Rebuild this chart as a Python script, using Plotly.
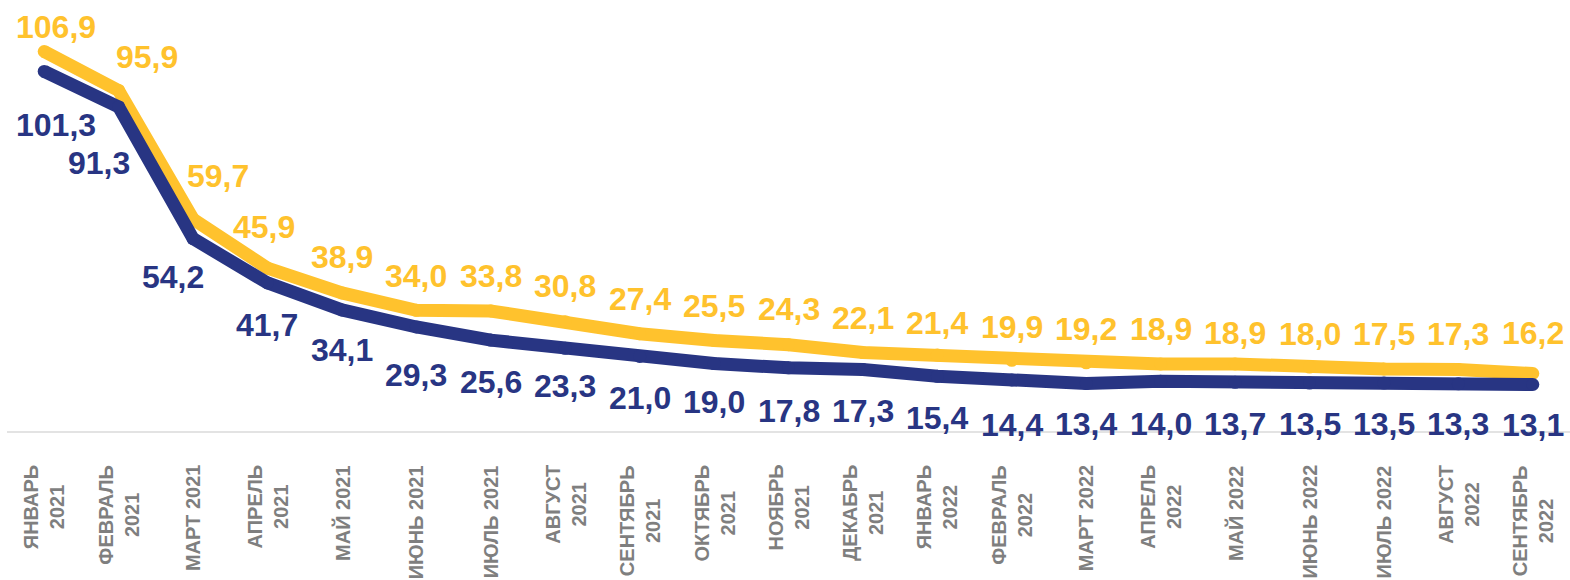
import plotly.graph_objects as go

# ---- data ----
months = ["ЯНВАРЬ<br>2021", "ФЕВРАЛЬ<br>2021", "МАРТ 2021", "АПРЕЛЬ<br>2021", "МАЙ 2021",
          "ИЮНЬ 2021", "ИЮЛЬ 2021", "АВГУСТ<br>2021", "СЕНТЯБРЬ<br>2021", "ОКТЯБРЬ<br>2021",
          "НОЯБРЬ<br>2021", "ДЕКАБРЬ<br>2021", "ЯНВАРЬ<br>2022", "ФЕВРАЛЬ<br>2022", "МАРТ 2022",
          "АПРЕЛЬ<br>2022", "МАЙ 2022", "ИЮНЬ 2022", "ИЮЛЬ 2022", "АВГУСТ<br>2022",
          "СЕНТЯБРЬ<br>2022"]
series_yellow = [106.9, 95.9, 59.7, 45.9, 38.9, 34.0, 33.8, 30.8, 27.4, 25.5, 24.3, 22.1,
                 21.4, 19.9, 19.2, 18.9, 18.9, 18.0, 17.5, 17.3, 16.2]
series_navy = [101.3, 91.3, 54.2, 41.7, 34.1, 29.3, 25.6, 23.3, 21.0, 19.0, 17.8, 17.3,
               15.4, 14.4, 13.4, 14.0, 13.7, 13.5, 13.5, 13.3, 13.1]

# ---- style ----
YELLOW = "#FFC22D"
NAVY = "#283583"
GRAY = "#7F7F7F"
FONT = "Liberation Sans, Arial, sans-serif"

# label offsets (pixels) relative to the data point
y_label_dx = [12, 28, 25, -4] + [0] * 17
y_label_dy = [25, 34, 43, 41, 36, 34, 35, 36, 35, 34, 36, 35, 32, 33, 34, 35, 31, 33, 35, 36, 40]
n_label_dx = [12, -20, -20, -1] + [0] * 17
n_label_dy = [-54, -56, -38, -42, -40, -48, -42, -38, -42, -38, -43, -41, -42, -45, -41, -43,
              -42, -41, -41, -40, -40]

xs = list(range(len(months)))

fig = go.Figure()
for vals, col in [(series_yellow, YELLOW), (series_navy, NAVY)]:
    fig.add_trace(go.Scatter(
        x=xs, y=vals, mode="lines+markers",
        line=dict(color=col, width=13),
        marker=dict(color=col, size=13, line=dict(width=0)),
        hoverinfo="skip", showlegend=False,
    ))

def fmt(v):
    return f"{v:.1f}".replace(".", ",")

annotations = []
for vals, col, dxs, dys in [(series_yellow, YELLOW, y_label_dx, y_label_dy),
                            (series_navy, NAVY, n_label_dx, n_label_dy)]:
    for i, v in enumerate(vals):
        annotations.append(dict(
            x=i, y=v, xref="x", yref="y", text=fmt(v), showarrow=False,
            xanchor="center", yanchor="middle", xshift=dxs[i], yshift=dys[i],
            font=dict(family=FONT, size=32, color=col, weight="bold"),
        ))

for i, m in enumerate(months):
    annotations.append(dict(
        x=i, y=0, xref="x", yref="paper", text=m, showarrow=False,
        textangle=-90, align="center", xanchor="center", yanchor="top", yshift=-32,
        font=dict(family=FONT, size=20, color=GRAY, weight="bold"),
    ))

fig.update_layout(
    width=1570, height=580,
    margin=dict(l=7, r=0, t=5, b=149),
    paper_bgcolor="white", plot_bgcolor="white",
    xaxis=dict(range=[-0.5, len(months) - 0.5], showgrid=False, zeroline=False,
               showticklabels=False, showline=True, linecolor="#E3E3E3", linewidth=2,
               ticks=""),
    yaxis=dict(range=[0, 120], visible=False, showgrid=False, zeroline=False),
    annotations=annotations,
    hovermode=False,
)

fig.write_html("out.html", config={"displayModeBar": False},
               post_script="document.body.style.margin='0';document.body.style.padding='0';")
